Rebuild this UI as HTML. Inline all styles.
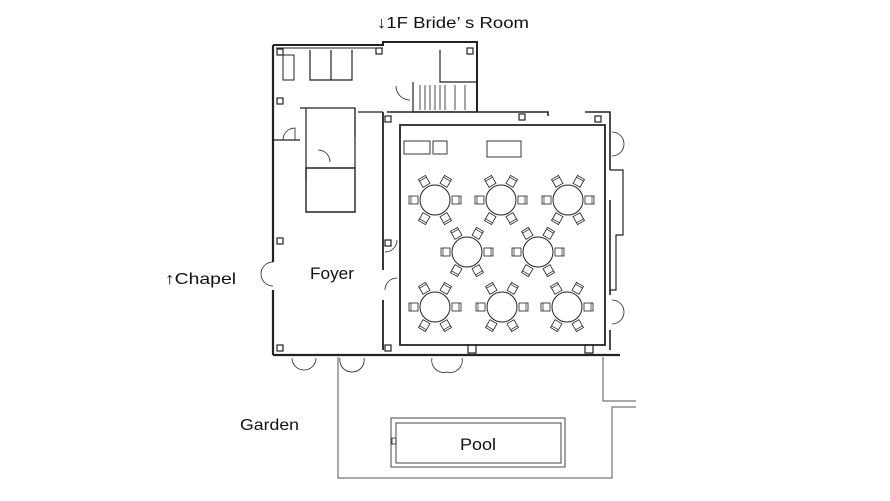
<!DOCTYPE html>
<html><head><meta charset="utf-8"><style>
html,body{margin:0;padding:0;background:#fff;}
svg{display:block;}
text{font-family:"Liberation Sans",sans-serif;fill:#111;}
</style></head><body>
<svg width="890" height="501" viewBox="0 0 890 501" xmlns="http://www.w3.org/2000/svg">
<defs>
<g id="ch"><rect x="-5" y="-4" width="9" height="8" fill="#fff" stroke="#222" stroke-width="0.8"/><line x1="-3" y1="-4" x2="-3" y2="4" stroke="#222" stroke-width="0.7"/></g>
<g id="tbl">
<circle r="15" fill="#fff" stroke="#222" stroke-width="1"/>
<use href="#ch" transform="translate(-21,0)"/>
<use href="#ch" transform="translate(21,0) rotate(180)"/>
<use href="#ch" transform="rotate(-60) translate(-21,0)"/>
<use href="#ch" transform="rotate(-120) translate(-21,0)"/>
<use href="#ch" transform="rotate(60) translate(-21,0)"/>
<use href="#ch" transform="rotate(120) translate(-21,0)"/>
</g>
</defs>
<g fill="none" stroke="#222" stroke-width="1.2">
<path d="M338 357 V478 H612 V407 H636" stroke="#555" stroke-width="1"/>
<path d="M603 357 V401 H636" stroke="#555" stroke-width="1"/>
<rect x="391" y="418" width="174" height="49" stroke="#444" stroke-width="1"/>
<rect x="396" y="423" width="165" height="40" stroke="#444" stroke-width="1"/>
<rect x="392" y="438" width="4" height="6" stroke-width="0.8"/>
<path d="M273 45 H383 V42 H477 V112" stroke-width="2"/>
<path d="M276 48 H383" stroke-width="1"/>
<path d="M273 45 V262 M273 290 V355" stroke-width="2.2"/>
<path d="M273 355 H620" stroke-width="2.2"/>
<path d="M383 112 V270 M383 300 V350" stroke-width="1.8"/>
<path d="M387 112 H548 V116 M585 112 H610 V128" stroke-width="1.6"/>
<path d="M400 125 H605 V345 H400 Z" stroke-width="1.8"/>
<path d="M610 128 V170 M610 200 V295 M610 330 V350" stroke-width="1.6"/>
<path d="M610 170 H623 V235 H616 V290 H610" stroke-width="1.2"/>
<path d="M283 55 H294 V80 H283 Z" stroke-width="1"/>
<path d="M310 50 V80 H352 V50 M331 50 V80" stroke-width="1.2"/>
<path d="M300 108 H355 V137 M306 108 V180" stroke-width="1.2"/>
<path d="M306 168 H355 V212 H306 Z" stroke-width="1.4"/>
<path d="M355 108 V168" stroke-width="1.2"/>
<path d="M440 50 V82 H477 M413 82 V112 H477" stroke-width="1.2"/>
<path d="M420 85 V110 M425 85 V110 M430 85 V110 M435 85 V110 M440 85 V110 M445 85 V110 M455 85 V110 M465 85 V110" stroke-width="0.8"/>
<path d="M273 140 H300" stroke-width="1.2"/>
<path d="M358 112 H383" stroke-width="1.2"/>
<path d="M283 140 A12 12 0 0 1 295 128 V140 M410 100 A14 14 0 0 1 396 86 M318 150 A12 12 0 0 1 330 162 M397 240 A12 12 0 0 1 385 252 M397 278 A12 12 0 0 0 385 290" stroke-width="0.8"/>
<path d="M273 262 A12 12 0 0 0 261 274 A12 12 0 0 0 273 286" stroke-width="0.8"/>
<path d="M292 358 A12 12 0 0 0 304 370 A12 12 0 0 0 316 358 M340 358 A12 12 0 0 0 352 372 A12 12 0 0 0 364 358 M432 358 A12 12 0 0 0 447 372 A12 12 0 0 0 462 358" stroke-width="0.8"/>
<path d="M612 132 A12 12 0 0 1 624 144 A12 12 0 0 1 612 156 M612 300 A12 12 0 0 1 624 312 A12 12 0 0 1 612 324" stroke-width="0.8"/>
<g stroke-width="1.2">
<rect x="277" y="49" width="6" height="6"/><rect x="376" y="48" width="6" height="6"/><rect x="467" y="48" width="6" height="6"/>
<rect x="277" y="98" width="6" height="6"/><rect x="385" y="116" width="6" height="6"/><rect x="595" y="116" width="6" height="6"/><rect x="519" y="114" width="6" height="6"/>
<rect x="277" y="238" width="6" height="6"/><rect x="385" y="240" width="6" height="6"/>
<rect x="277" y="345" width="6" height="6"/><rect x="385" y="345" width="6" height="6"/>
<rect x="468" y="345" width="8" height="8"/><rect x="585" y="345" width="8" height="8"/>
</g>
<rect x="404" y="141" width="26" height="13" stroke-width="0.9"/><rect x="433" y="141" width="14" height="13" stroke-width="0.9"/><rect x="487" y="141" width="34" height="16" stroke-width="0.9"/>
</g>
<use href="#tbl" x="435" y="200"/><use href="#tbl" x="501" y="200"/><use href="#tbl" x="568" y="200"/>
<use href="#tbl" x="467" y="252"/><use href="#tbl" x="538" y="252"/>
<use href="#tbl" x="435" y="307"/><use href="#tbl" x="502" y="307"/><use href="#tbl" x="567" y="307"/>
<text x="377" y="28" font-size="16" textLength="152" lengthAdjust="spacingAndGlyphs">↓1F Bride’ s Room</text>
<text x="310" y="279" font-size="17" textLength="44" lengthAdjust="spacingAndGlyphs">Foyer</text>
<text x="165" y="284" font-size="16" textLength="71" lengthAdjust="spacingAndGlyphs">↑Chapel</text>
<text x="240" y="430" font-size="16" textLength="59" lengthAdjust="spacingAndGlyphs">Garden</text>
<text x="460" y="450" font-size="17" textLength="36" lengthAdjust="spacingAndGlyphs">Pool</text>
</svg>
</body></html>
